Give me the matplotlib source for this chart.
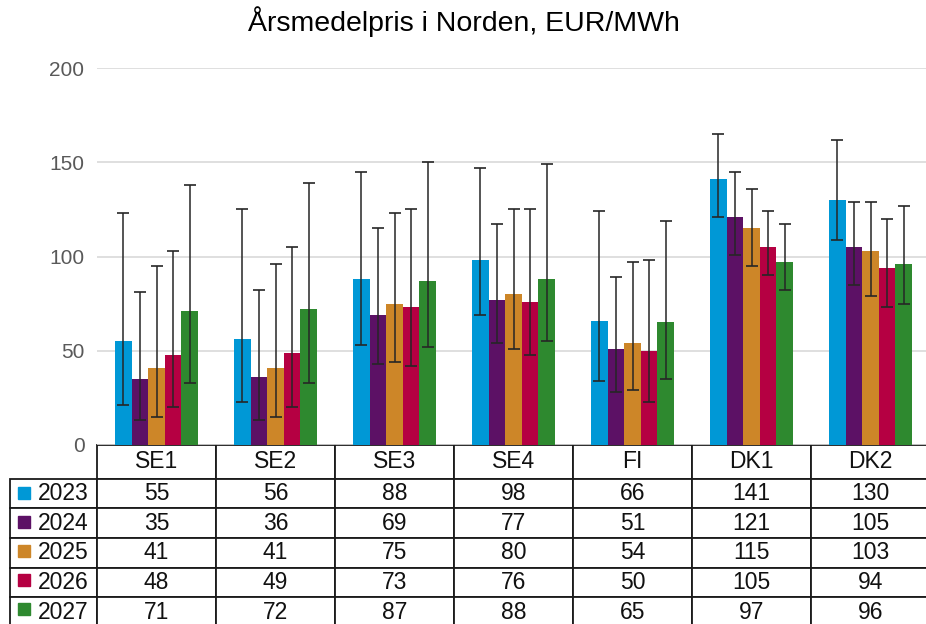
import numpy as np
import matplotlib
matplotlib.use('Agg')
import matplotlib.pyplot as plt
from matplotlib.patches import Rectangle

plt.rcParams['font.family'] = ['Liberation Sans', 'DejaVu Sans']

areas = ['SE1', 'SE2', 'SE3', 'SE4', 'FI', 'DK1', 'DK2']
years = ['2023', '2024', '2025', '2026', '2027']
colors = ['#0098D6', '#5C1165', '#CD8628', '#B50042', '#2E892F']

# yearly mean prices, EUR/MWh
p2023 = [55, 56, 88, 98, 66, 141, 130]
p2024 = [35, 36, 69, 77, 51, 121, 105]
p2025 = [41, 41, 75, 80, 54, 115, 103]
p2026 = [48, 49, 73, 76, 50, 105, 94]
p2027 = [71, 72, 87, 88, 65, 97, 96]

# uncertainty range (low / high end of the whiskers)
low2023 = [21, 23, 53, 69, 34, 121, 109]
low2024 = [13, 13, 43, 54, 28, 101, 85]
low2025 = [15, 15, 44, 51, 29, 95, 79]
low2026 = [20, 20, 42, 48, 23, 90, 73]
low2027 = [33, 33, 52, 55, 35, 82, 75]

high2023 = [123, 125, 145, 147, 124, 165, 162]
high2024 = [81, 82, 115, 117, 89, 145, 129]
high2025 = [95, 96, 123, 125, 97, 136, 129]
high2026 = [103, 105, 125, 125, 98, 124, 120]
high2027 = [138, 139, 150, 149, 119, 117, 127]

prices = [p2023, p2024, p2025, p2026, p2027]
lows = [low2023, low2024, low2025, low2026, low2027]
highs = [high2023, high2024, high2025, high2026, high2027]

W, H = 926, 624
fig = plt.figure(figsize=(W / 100, H / 100), dpi=100)

# axes geometry in pixels
ax_l, ax_b, ax_w, ax_h = 97, 445, 833, 377
ax = fig.add_axes([ax_l / W, (H - ax_b) / H, ax_w / W, ax_h / H])

x = np.arange(len(areas))
bw = 0.14
for i, yr in enumerate(years):
    vals = np.array(prices[i])
    err = [vals - np.array(lows[i]), np.array(highs[i]) - vals]
    ax.bar(x + (i - 2) * bw, vals, bw, color=colors[i], zorder=2)
    ax.errorbar(x + (i - 2) * bw, vals, yerr=err, fmt='none', ecolor='#262626',
                elinewidth=1.1, capsize=4.3, capthick=1.2, zorder=3)

ax.set_xlim(-0.5, len(areas) - 0.5)
ax.set_ylim(0, 200)
ax.set_yticks([0, 50, 100, 150, 200])
ax.tick_params(axis='y', length=0, pad=9, labelsize=15, labelcolor='#595959')
ax.set_xticks([])
ax.grid(axis='y', color='#d9d9d9', linewidth=1.2, zorder=0)
for s in ax.spines.values():
    s.set_visible(False)

# data table under the chart
cell_text = [[yr] + [str(v) for v in prices[i]] for i, yr in enumerate(years)]
tb_left = (10 - ax_l) / ax_w
tb_w = 920 / ax_w
tb_h = 182 / ax_h
tbl = ax.table(cellText=cell_text, colLabels=[''] + areas, cellLoc='center',
               colWidths=[87 / 920] + [119 / 920] * 7,
               bbox=[tb_left, -tb_h, tb_w, tb_h])
tbl.auto_set_font_size(False)
tbl.set_fontsize(16.5)
for (r, c), cell in tbl.get_celld().items():
    cell.set_linewidth(1.3)
    cell.set_edgecolor('#1a1a1a')
    cell.get_text().set_color('#111111')
    if r == 0:
        cell.set_height(cell.get_height() * 33 / 29)
    if c == 0 and r > 0:
        cell.get_text().set_ha('right')
tbl[0, 0].visible_edges = ''

# legend squares in the row labels
for i in range(len(years)):
    cy = 478 + 29 * i + 15
    ax.add_patch(Rectangle(((18 - ax_l) / ax_w, (ax_b - cy - 6) / ax_h), 12 / ax_w, 12 / ax_h,
                           transform=ax.transAxes, color=colors[i], clip_on=False, zorder=5))

fig.text(0.501, 1 - 22 / H, 'Årsmedelpris i Norden, EUR/MWh', ha='center', va='center',
         fontsize=20.5)

fig.savefig('out.png', dpi=100)
